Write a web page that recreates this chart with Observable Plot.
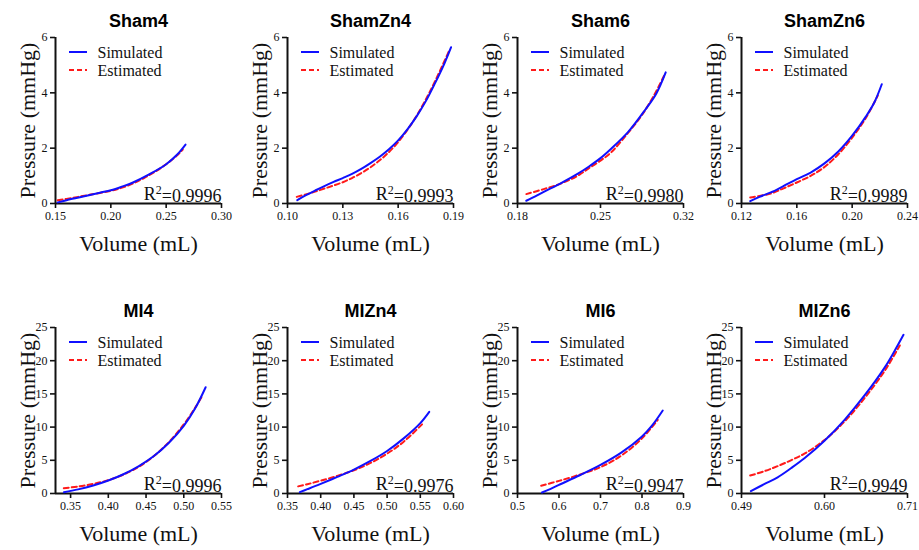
<!DOCTYPE html>
<html><head><meta charset="utf-8">
<script src="https://cdn.jsdelivr.net/npm/d3@7"></script>
<script src="https://cdn.jsdelivr.net/npm/@observablehq/plot@0.6"></script>
<style>
body{margin:0;background:#fff;}
#wrap{position:relative;width:919px;height:550px;overflow:hidden;background:#fff;}
.panel{position:absolute;}
</style></head><body><div id="wrap"></div>
<script>
// ---- data ----
const panelNames = ["Sham4","ShamZn4","Sham6","ShamZn6","MI4","MIZn4","MI6","MIZn6"];
const rSquared = ["0.9996","0.9993","0.9980","0.9989","0.9996","0.9976","0.9947","0.9949"];
const seriesNames = ["Simulated","Estimated"];
const xLabel = "Volume (mL)";
const yLabel = "Pressure (mmHg)";

const xDomains = [[0.15,0.30],[0.10,0.19],[0.18,0.32],[0.12,0.24],[0.33,0.55],[0.35,0.60],[0.5,0.9],[0.49,0.71]];
const xTicks = [
  [0.15,0.20,0.25,0.30],[0.10,0.13,0.16,0.19],[0.18,0.25,0.32],[0.12,0.16,0.20,0.24],
  [0.35,0.40,0.45,0.50,0.55],[0.35,0.40,0.45,0.50,0.55,0.60],[0.5,0.6,0.7,0.8,0.9],[0.49,0.60,0.71]
];
const xTickLabels = [
  ["0.15","0.20","0.25","0.30"],["0.10","0.13","0.16","0.19"],["0.18","0.25","0.32"],["0.12","0.16","0.20","0.24"],
  ["0.35","0.40","0.45","0.50","0.55"],["0.35","0.40","0.45","0.50","0.55","0.60"],["0.5","0.6","0.7","0.8","0.9"],["0.49","0.60","0.71"]
];
const yDomainTop = [0, 6];
const yDomainBottom = [0, 25];
const yTicksTop = [0, 2, 4, 6];
const yTicksBottom = [0, 5, 10, 15, 20, 25];

// Simulated (blue) and Estimated (red) curves: volume (mL), pressure (mmHg)
const sham4SimV = [0.152,0.16,0.175,0.19,0.20,0.21,0.22,0.235,0.25,0.26,0.2675];
const sham4SimP = [0.04,0.12,0.25,0.39,0.48,0.61,0.76,1.06,1.42,1.77,2.13];
const sham4EstV = [0.152,0.165,0.18,0.20,0.215,0.23,0.245,0.26,0.265];
const sham4EstP = [0.12,0.2,0.31,0.46,0.64,0.92,1.28,1.74,1.95];

const shamZn4SimV = [0.1053,0.11,0.115,0.12,0.125,0.13,0.135,0.14,0.145,0.15,0.155,0.16,0.165,0.17,0.175,0.18,0.185,0.1887];
const shamZn4SimP = [0.12,0.3,0.47,0.63,0.78,0.92,1.07,1.25,1.46,1.69,1.96,2.28,2.68,3.15,3.7,4.35,5.05,5.65];
const shamZn4EstV = [0.105,0.11,0.115,0.12,0.125,0.13,0.135,0.14,0.145,0.15,0.155,0.16,0.165,0.17,0.175,0.18,0.1875];
const shamZn4EstP = [0.24,0.33,0.43,0.54,0.65,0.77,0.92,1.1,1.31,1.56,1.86,2.22,2.66,3.17,3.76,4.42,5.5];

const sham6SimV = [0.1874,0.195,0.2021,0.2164,0.2306,0.24,0.25,0.259,0.2732,0.2874,0.297,0.305];
const sham6SimP = [0.1,0.26,0.42,0.73,1.07,1.33,1.64,1.98,2.58,3.37,3.97,4.74];
const sham6EstV = [0.1874,0.2021,0.2164,0.2306,0.24,0.25,0.259,0.2732,0.285,0.295,0.304];
const sham6EstP = [0.34,0.52,0.72,1.0,1.27,1.55,1.85,2.55,3.2,3.9,4.65];

const shamZn6SimV = [0.1263,0.133,0.1412,0.15,0.16,0.17,0.18,0.19,0.20,0.21,0.216,0.2214];
const shamZn6SimP = [0.085,0.24,0.40,0.62,0.88,1.12,1.45,1.88,2.45,3.15,3.65,4.31];
const shamZn6EstV = [0.1263,0.1412,0.15,0.16,0.17,0.18,0.19,0.20,0.21,0.2185];
const shamZn6EstP = [0.22,0.36,0.54,0.76,1.0,1.32,1.78,2.38,3.1,3.9];

const mi4SimV = [0.341,0.36,0.38,0.40,0.42,0.44,0.46,0.48,0.50,0.515,0.529];
const mi4SimP = [0.2,0.62,1.2,1.95,2.9,4.1,5.6,7.6,10.2,12.8,16.0];
const mi4EstV = [0.341,0.36,0.38,0.40,0.42,0.44,0.46,0.48,0.50,0.515,0.525];
const mi4EstP = [0.8,1.05,1.45,2.0,2.85,4.0,5.6,7.7,10.4,12.9,14.8];

const miZn4SimV = [0.3685,0.38,0.40,0.425,0.45,0.475,0.50,0.525,0.55,0.5635];
const miZn4SimP = [0.2,0.65,1.45,2.5,3.6,4.9,6.4,8.3,10.6,12.3];
const miZn4EstV = [0.366,0.38,0.40,0.425,0.45,0.475,0.50,0.525,0.5535];
const miZn4EstP = [1.07,1.4,1.93,2.65,3.5,4.6,6.0,7.8,10.5];

const mi6SimV = [0.559,0.58,0.6,0.65,0.7,0.75,0.8,0.825,0.85];
const mi6SimP = [0.15,0.7,1.3,2.75,4.3,6.15,8.6,10.3,12.5];
const mi6EstV = [0.557,0.6,0.65,0.7,0.75,0.8,0.838];
const mi6EstP = [1.17,1.9,2.85,3.97,5.7,8.3,11.1];

const miZn6SimV = [0.5024,0.52,0.5379,0.5555,0.5734,0.60,0.6266,0.6533,0.6799,0.6925,0.7047];
const miZn6SimP = [0.36,1.4,2.44,3.8,5.3,7.94,11.1,14.8,19.0,21.4,23.9];
const miZn6EstV = [0.5015,0.52,0.5379,0.5555,0.5734,0.60,0.6266,0.6533,0.6799,0.6998];
const miZn6EstP = [2.7,3.35,4.12,5.0,6.0,8.04,10.85,14.4,18.5,22.3];

const simV = [sham4SimV, shamZn4SimV, sham6SimV, shamZn6SimV, mi4SimV, miZn4SimV, mi6SimV, miZn6SimV];
const simP = [sham4SimP, shamZn4SimP, sham6SimP, shamZn6SimP, mi4SimP, miZn4SimP, mi6SimP, miZn6SimP];
const estV = [sham4EstV, shamZn4EstV, sham6EstV, shamZn6EstV, mi4EstV, miZn4EstV, mi6EstV, miZn6EstV];
const estP = [sham4EstP, shamZn4EstP, sham6EstP, shamZn6EstP, mi4EstP, miZn4EstP, mi6EstP, miZn6EstP];

// ---- layout / style ----
const SERIF = "'Liberation Serif','Times New Roman',Times,serif";
const SANS = "'Liberation Sans',Arial,Helvetica,sans-serif";
const W = 231, H = 260, ML = 55, MR = 10, MT = 37, MB = 57;
const lefts = [0, 231.5, 462.3, 685.7];
const tops = [0, 290];
const BLUE = "#1010ff", RED = "#ff1a1a";

const wrap = document.getElementById("wrap");

panelNames.forEach((name, i) => {
  const row = Math.floor(i / 4), col = i % 4;
  const sim = simV[i].map((v, k) => ({v, p: simP[i][k]}));
  const est = estV[i].map((v, k) => ({v, p: estP[i][k]}));
  const yTicks = row === 0 ? yTicksTop : yTicksBottom;
  const plot = Plot.plot({
    width: W, height: H,
    marginLeft: ML, marginRight: MR, marginTop: MT, marginBottom: MB,
    style: {background: "transparent", overflow: "visible", color: "#111"},
    x: {domain: xDomains[i]},
    y: {domain: row === 0 ? yDomainTop : yDomainBottom},
    marks: [
      Plot.axisX({ticks: xTicks[i], tickFormat: d => xTickLabels[i][xTicks[i].indexOf(d)],
        tickSize: 5, tickPadding: 3, fontSize: 12, fontFamily: SERIF, label: null, strokeWidth: 1.6, stroke: "#111"}),
      Plot.axisY({ticks: yTicks, tickFormat: d => String(d),
        tickSize: 5, tickPadding: 3, fontSize: 12, fontFamily: SERIF, label: null, strokeWidth: 1.6, stroke: "#111"}),
      Plot.ruleX([xDomains[i][0]], {stroke: "#111", strokeWidth: 2}),
      Plot.ruleY([0], {stroke: "#111", strokeWidth: 2}),
      Plot.line(est, {x: "v", y: "p", stroke: RED, strokeWidth: 2, strokeDasharray: "5,3", curve: "catmull-rom"}),
      Plot.line(sim, {x: "v", y: "p", stroke: BLUE, strokeWidth: 2, curve: "catmull-rom"}),
      Plot.text([name], {frameAnchor: "top", dy: -11, lineAnchor: "bottom", fontSize: 18, fontWeight: "bold", fontFamily: SANS, fill: "#000"}),
      Plot.text([rSquared[i]], {text: d => "R2=" + d, frameAnchor: "bottom-right", dy: -4, lineAnchor: "bottom", textAnchor: "end", fontSize: 18, fontFamily: SERIF, fill: "#111", className: "r2"}),
      Plot.text([xLabel], {frameAnchor: "bottom", dy: 40, lineAnchor: "middle", fontSize: 22, fontFamily: SERIF, fill: "#111"}),
      Plot.text([yLabel], {frameAnchor: "left", dx: -28, rotate: -90, lineAnchor: "middle", textAnchor: "middle", fontSize: 22, fontFamily: SERIF, fill: "#111"}),
      Plot.text([seriesNames[0]], {frameAnchor: "top-left", dx: 42, dy: 15, lineAnchor: "middle", textAnchor: "start", fontSize: 16, fontFamily: SERIF, fill: "#111"}),
      Plot.text([seriesNames[1]], {frameAnchor: "top-left", dx: 42, dy: 33, lineAnchor: "middle", textAnchor: "start", fontSize: 16, fontFamily: SERIF, fill: "#111"})
    ]
  });
  const svg = d3.select(plot);
  // superscript 2 in R²
  svg.selectAll("text").filter(function() { return this.textContent.startsWith("R2="); })
    .each(function() {
      const t = d3.select(this);
      const rest = this.textContent.slice(2);
      t.text(null);
      t.append("tspan").text("R");
      t.append("tspan").attr("dy", "-0.45em").attr("font-size", 12).text("2");
      t.append("tspan").attr("dy", "0.45em").text(rest);
    });
  // legend swatches
  const g = svg.append("g");
  g.append("line").attr("x1", ML + 14).attr("x2", ML + 32).attr("y1", MT + 15).attr("y2", MT + 15)
    .attr("stroke", BLUE).attr("stroke-width", 2);
  g.append("line").attr("x1", ML + 14).attr("x2", ML + 32).attr("y1", MT + 33).attr("y2", MT + 33)
    .attr("stroke", RED).attr("stroke-width", 2).attr("stroke-dasharray", "5,3");
  const div = document.createElement("div");
  div.className = "panel";
  div.style.left = lefts[col] + "px";
  div.style.top = tops[row] + "px";
  div.appendChild(plot);
  wrap.appendChild(div);
});
</script>
</body></html>
